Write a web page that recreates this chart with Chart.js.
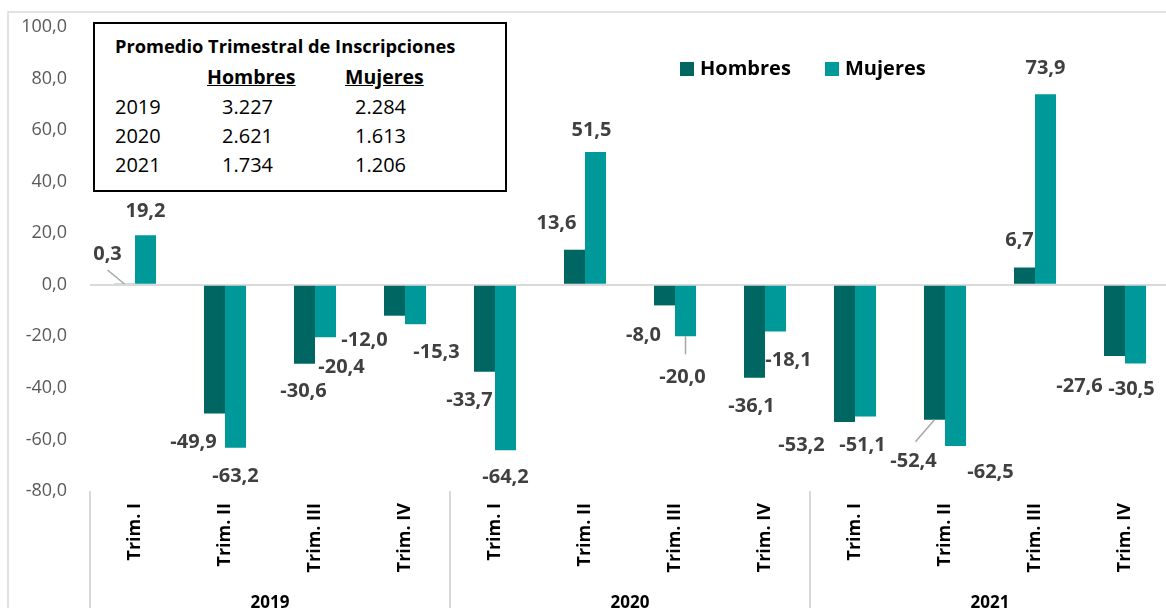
<!DOCTYPE html>
<html>
<head>
<meta charset="utf-8">
<script src="https://cdn.jsdelivr.net/npm/chart.js@4.4.0/dist/chart.umd.min.js"></script>
<style>
    html, body { margin: 0; padding: 0; background: #fff; overflow: hidden; }
    #wrap { position: relative; width: 1166px; height: 608px; overflow: hidden; }
    #chart { position: absolute; left: 0; top: 0; }
    #resumen {
        position: absolute; left: 93px; top: 22px; width: 410px; height: 166px;
        border: 2px solid #000; background: #fff; color: #000;
        font-family: "Open Sans", sans-serif;
    }
    #resumen div { position: absolute; white-space: pre; line-height: 1; }
    #resumen .tit { font-weight: bold; font-size: 18.3px; }
    #resumen .hdr { font-weight: bold; font-size: 19.5px; text-decoration: underline; }
    #resumen .cel { font-size: 20px; }
</style>
</head>
<body>
<div id="wrap">
    <canvas id="chart" width="1170" height="608"></canvas>
    <div id="resumen"></div>
</div>
<script>
// quarterly change (%) by sex
const years = ['2019', '2020', '2021'];
const quarters = ['Trim. I', 'Trim. II', 'Trim. III', 'Trim. IV'];
const hombres = [0.3, -49.9, -30.6, -12.0, -33.7, 13.6, -8.0, -36.1, -53.2, -52.4, 6.7, -27.6];
const mujeres = [19.2, -63.2, -20.4, -15.3, -64.2, 51.5, -20.0, -18.1, -51.1, -62.5, 73.9, -30.5];

// inset table: average quarterly registrations
const promHombres = ['3.227', '2.621', '1.734'];
const promMujeres = ['2.284', '1.613', '1.206'];

// label offsets from bar end (px), like the hand-moved labels of the original
const offH = [[-17, -30], [-21, 29], [-1, 28], [-30, 25], [-15, 29], [-18, -26],
              [-21, 30], [-3, 28], [-43, 23], [-21, 41], [-5, -27], [-35, 30]];
const offM = [[0, -24], [0, 29], [16, 30], [21, 28], [0, 27], [-4, -22],
              [-3, 41], [13, 29], [-3, 29], [35, 26], [0, -26], [-4, 26]];
// leader lines (end point relative to bar end)
const leadH = {0: [-17, -14], 9: [-19, 22]};
const leadM = {6: [0, 18]};

const HOMBRES_COLOR = '#006661';
const MUJERES_COLOR = '#009999';
const labels = years.flatMap(() => quarters);

const fmt = v => v.toFixed(1).replace('.', ',');

// inset table as plain html
const box = document.getElementById('resumen');
function cell(cls, text, left, top) {
    const d = document.createElement('div');
    d.className = cls;
    d.textContent = text;
    d.style.left = left + 'px';
    d.style.top = top + 'px';
    box.appendChild(d);
}
cell('tit', 'Promedio Trimestral de Inscripciones', 20, 13);
cell('hdr', 'Hombres', 112, 43);
cell('hdr', 'Mujeres', 250, 43);
years.forEach((y, i) => {
    const top = 73 + i * 29;
    cell('cel', y, 20, top);
    cell('cel', promHombres[i], 127, top);
    cell('cel', promMujeres[i], 260, top);
});

const decorPlugin = {
    id: 'decor',
    afterDatasetsDraw(chart) {
        const ctx = chart.ctx;
        ctx.save();
        ctx.font = 'bold 20px "Open Sans"';
        ctx.fillStyle = '#404040';
        ctx.textAlign = 'center';
        ctx.textBaseline = 'middle';
        [[0, hombres, offH, leadH], [1, mujeres, offM, leadM]].forEach(([di, vals, offs, leads]) => {
            const meta = chart.getDatasetMeta(di);
            meta.data.forEach((bar, i) => {
                const [dx, dy] = offs[i];
                ctx.fillText(fmt(vals[i]), bar.x + dx, bar.y + dy);
                if (leads[i]) {
                    ctx.save();
                    ctx.strokeStyle = '#a6a6a6';
                    ctx.lineWidth = 1.5;
                    ctx.beginPath();
                    ctx.moveTo(bar.x, bar.y);
                    ctx.lineTo(bar.x + leads[i][0], bar.y + leads[i][1]);
                    ctx.stroke();
                    ctx.restore();
                }
            });
        });
        ctx.restore();
    },
    afterDraw(chart) {
        const ctx = chart.ctx;
        const x = chart.scales.x;
        const area = chart.chartArea;
        const step = x.getPixelForValue(1) - x.getPixelForValue(0);
        ctx.save();

        // outer frame
        ctx.strokeStyle = '#d9d9d9';
        ctx.lineWidth = 1.5;
        ctx.beginPath();
        ctx.moveTo(8, 608);
        ctx.lineTo(8, 12);
        ctx.lineTo(1170, 12);
        ctx.stroke();

        // quarter labels, rotated
        ctx.fillStyle = '#000';
        ctx.font = 'bold 18px "Open Sans"';
        ctx.textAlign = 'right';
        ctx.textBaseline = 'middle';
        labels.forEach((lab, i) => {
            ctx.save();
            ctx.translate(x.getPixelForValue(i), area.bottom + 12);
            ctx.rotate(-Math.PI / 2);
            ctx.fillText(lab, 0, 0);
            ctx.restore();
        });

        // year groups + separators
        ctx.font = 'bold 17px "Open Sans"';
        ctx.textAlign = 'center';
        ctx.strokeStyle = '#d9d9d9';
        ctx.lineWidth = 2;
        years.forEach((y, g) => {
            const left = x.getPixelForValue(g * 4) - step / 2;
            ctx.fillText(y, left + step * 2, 603);
            ctx.beginPath();
            ctx.moveTo(left, area.bottom);
            ctx.lineTo(left, 608);
            ctx.stroke();
        });

        // legend
        ctx.font = 'bold 20px "Open Sans"';
        ctx.textAlign = 'left';
        const legX = [680, 825];
        chart.data.datasets.forEach((ds, i) => {
            ctx.fillStyle = ds.backgroundColor;
            ctx.fillRect(legX[i], 62, 14, 14);
            ctx.fillStyle = '#000';
            ctx.fillText(ds.label, legX[i] + 20, 69);
        });
        ctx.restore();
    }
};

new Chart(document.getElementById('chart'), {
    type: 'bar',
    data: {
        labels: labels,
        datasets: [
            { label: 'Hombres', data: hombres, backgroundColor: HOMBRES_COLOR },
            { label: 'Mujeres', data: mujeres, backgroundColor: MUJERES_COLOR }
        ]
    },
    options: {
        responsive: false,
        animation: false,
        categoryPercentage: 0.467,
        barPercentage: 1.0,
        layout: { padding: { top: 27, left: 0, right: 0, bottom: 0 } },
        scales: {
            x: {
                ticks: { display: false },
                grid: { display: false },
                border: { display: false },
                afterFit: s => { s.height = 117; }
            },
            y: {
                min: -80,
                max: 100,
                ticks: {
                    stepSize: 20,
                    padding: 23,
                    color: '#595959',
                    font: { family: 'Open Sans', size: 18 },
                    callback: v => fmt(v)
                },
                grid: {
                    drawTicks: false,
                    lineWidth: 2,
                    color: c => (c.tick && c.tick.value === 0) ? '#d9d9d9' : 'rgba(0,0,0,0)'
                },
                border: { display: false },
                afterFit: s => {
                    s.width = 90;
                    // tick padding would otherwise push the plot top down
                    s.paddingTop = 5;
                    s.paddingBottom = 5;
                }
            }
        },
        plugins: {
            legend: { display: false },
            tooltip: { enabled: false }
        }
    },
    plugins: [decorPlugin]
});
</script>
</body>
</html>
